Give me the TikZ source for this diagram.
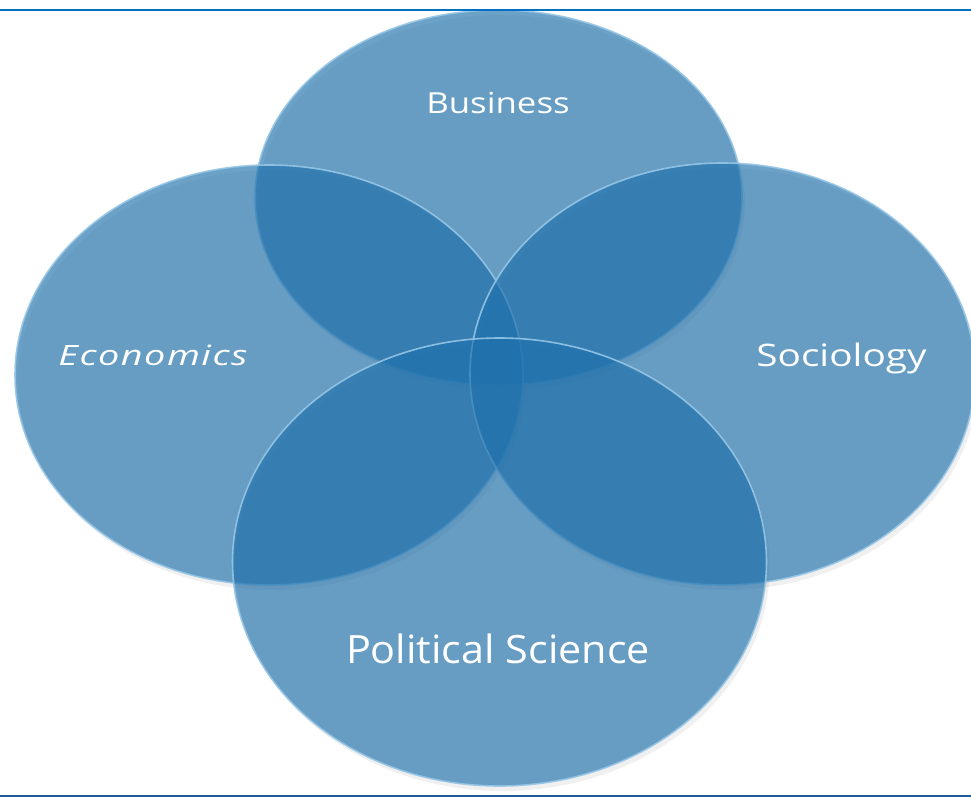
\documentclass[tikz,border=0pt]{standalone}
\usepackage{fontspec}
\setmainfont{Open Sans}
\definecolor{circfill}{RGB}{31,113,172}
\definecolor{rim}{RGB}{150,198,230}
\definecolor{topline}{RGB}{0,112,192}
\definecolor{botline}{RGB}{30,90,150}
\tikzset{
  venn/.style={fill=circfill, fill opacity=0.65, draw=rim, draw opacity=0.9, line width=1.6pt},
  lbl/.style={text=white, font=\fontsize{#1}{#1}\selectfont, inner sep=0pt, anchor=base},
}
\begin{document}
\begin{tikzpicture}[x=1pt,y=-1pt]
\useasboundingbox (0,0) rectangle (971,796);
\path[clip] (0,0) rectangle (971,796);
\fill[white] (0,0) rectangle (971,796);
% shadows
\foreach \cx/\cy/\rx/\ry in {498.5/197.5/243.5/187.5, 269/375/254/210, 722.5/374/252.5/211, 499.5/562/267/224}{
  \fill[black, opacity=0.06] (\cx+3,\cy+5) ellipse [x radius=\rx, y radius=\ry];
}
\draw[venn] (498.5,197.5) ellipse [x radius=243.5, y radius=187.5];
\draw[venn] (269,375) ellipse [x radius=254, y radius=210];
\draw[venn] (722.5,374) ellipse [x radius=252.5, y radius=211];
\draw[venn] (499.5,562) ellipse [x radius=267, y radius=224];
\node[lbl=29] (tbus) at (498,113.3) {\scalebox{1.2}[1]{Business}};
\node[lbl=28] (teco) at (153,365) {\scalebox{1.35}[1]{\addfontfeatures{LetterSpace=4}\itshape Economics}};
\node[lbl=31] (tsoc) at (841.5,366) {\scalebox{1.25}[1]{Sociology}};
\node[lbl=39] (tpol) at (498,663.3) {\scalebox{1.06}[1]{Political Science}};
\draw[topline, line width=2pt] (0,10) -- (971,10);
\draw[botline, line width=2pt] (0,795.5) -- (971,795.5);
\end{tikzpicture}
\end{document}
